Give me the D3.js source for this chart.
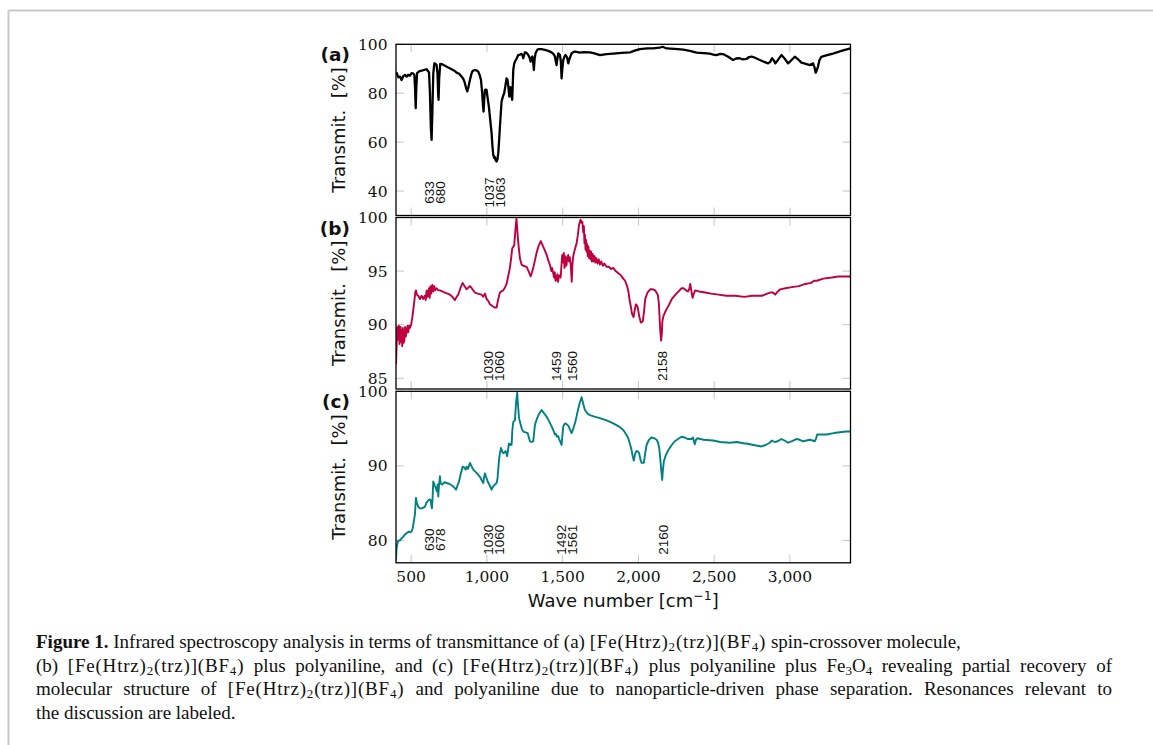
<!DOCTYPE html>
<html><head><meta charset="utf-8">
<script src="https://cdn.jsdelivr.net/npm/d3@7"></script>
<style>
body{margin:0;background:#fff;width:1153px;height:745px;overflow:hidden;position:relative;}
svg{position:absolute;left:0;top:0;}
.cap{position:absolute;left:36px;width:1076px;font-family:"Liberation Serif",serif;font-size:19px;line-height:20px;color:#111;white-space:nowrap;}
.just{text-align:justify;text-align-last:justify;}
.cap sub{font-size:13px;vertical-align:-3px;line-height:0;}
.f{letter-spacing:0.8px;}
</style></head>
<body>
<svg id="chart" width="1153" height="745"></svg>
<div class="cap" style="top:632px"><b>Figure 1.</b> Infrared spectroscopy analysis in terms of transmittance of (a) <span class="f">[Fe(Htrz)<sub>2</sub>(trz)](BF<sub>4</sub>)</span> spin-crossover molecule,</div>
<div class="cap just" style="top:655.5px">(b) <span class="f">[Fe(Htrz)<sub>2</sub>(trz)](BF<sub>4</sub>)</span> plus polyaniline, and (c) <span class="f">[Fe(Htrz)<sub>2</sub>(trz)](BF<sub>4</sub>)</span> plus polyaniline plus Fe<sub>3</sub>O<sub>4</sub> revealing partial recovery of</div>
<div class="cap just" style="top:679px">molecular structure of <span class="f">[Fe(Htrz)<sub>2</sub>(trz)](BF<sub>4</sub>)</span> and polyaniline due to nanoparticle-driven phase separation. Resonances relevant to</div>
<div class="cap" style="top:702.5px">the discussion are labeled.</div>
<script>
// ---------- data ----------
const waveA = [400,405,415,426,437,448,459,470,481,492,503,515,521,526,530,534,539,555,570,590,602,612,618,624,630,635,640,646,653,660,668,674,678,681,685,692,705,723,745,767,785,800,815,833,845,855,863,870,878,888,896,903,912,921,932,943,952,961,969,974,978,983,987,993,998,1005,1013,1022,1031,1037,1042,1048,1053,1058,1064,1070,1075,1080,1086,1092,1097,1105,1114,1122,1130,1136,1141,1148,1152,1155,1160,1167,1171,1174,1180,1185,1195,1207,1218,1229,1235,1240,1245,1251,1262,1273,1282,1289,1295,1300,1305,1310,1315,1321,1330,1339,1360,1383,1405,1427,1440,1449,1455,1460,1465,1471,1477,1482,1488,1493,1498,1504,1512,1520,1530,1537,1545,1559,1570,1581,1600,1614,1640,1680,1710,1746,1790,1834,1890,1944,1980,2010,2060,2098,2140,2160,2175,2186,2240,2296,2340,2384,2430,2471,2495,2515,2540,2559,2590,2625,2645,2669,2690,2713,2730,2747,2770,2801,2830,2856,2870,2882,2893,2904,2920,2944,2965,2988,3010,3032,3055,3076,3100,3131,3153,3163,3170,3178,3185,3195,3207,3240,3284,3340,3400];
const transA = [88.5,88.2,86.5,86.8,85.4,87,87.5,86.8,87.5,87.2,88.2,88,87.5,82,73.9,82,88.2,89,89.2,89.6,89.8,89,88.5,80,66,60.9,72,88,92.2,92,91.5,88,80,77.3,86,92,91.8,91.2,90.5,89.8,89.2,88.4,88,86.8,85.8,84.1,82,80.7,82.5,85.4,87.5,88.8,89.3,89.5,89.3,88.8,87.5,85.4,80,75,72.5,78,81.3,81.5,81.3,78,74.5,69,63.7,58,54.8,53.5,53.9,52.5,52.1,53,55.5,60,66.4,72,76.6,78.5,80,83,86.1,85.5,83,78.6,81,82.5,80,77.3,84,89.5,92,92.9,94,95.6,95.8,96.1,95.5,94.3,95.5,96.7,96.5,95.6,94.5,92.9,94.5,95,93,89.5,94,96.3,97.5,98,98,97.7,97.3,96.7,96,95,93,91.5,94,96.3,96,95.6,93,86.1,90,93.6,95,95.6,94.5,92.2,94,96.3,96.8,97,96.8,96.6,96.8,96.7,96.3,95.6,96,96.2,96.5,96.7,97.5,98,98.3,98.3,98.6,99,98.6,98.3,98.1,97.8,97.3,96.6,96.4,96.2,95.8,95.6,96.1,96,95,93.6,94.2,94.3,93.8,94,94.8,95,94.5,93.6,92.8,92.2,92.8,94.3,93.5,92.2,93.5,95.6,94.2,92.2,93.5,94.9,93.8,92.5,92.1,91.5,92.2,90.5,88.4,89.5,90.8,93.5,94.9,95.5,96.2,97.3,98.3];

const waveB = [400,404,408,411,415,419,423,426,430,434,437,441,445,450,455,460,465,471,476,481,487,492,500,508,515,521,527,532,538,547,558,569,580,590,596,602,608,613,618,622,628,633,640,646,652,660,668,680,690,705,723,740,756,772,789,800,811,825,840,852,866,880,888,895,905,921,940,965,975,987,998,1010,1020,1031,1050,1064,1075,1086,1095,1108,1120,1130,1140,1152,1160,1167,1175,1180,1188,1195,1200,1205,1211,1218,1229,1240,1262,1275,1289,1298,1306,1317,1328,1340,1356,1368,1383,1395,1405,1416,1425,1430,1438,1443,1448,1453,1460,1465,1470,1476,1482,1487,1492,1497,1500,1504,1508,1512,1518,1522,1526,1530,1537,1542,1547,1553,1560,1565,1570,1580,1592,1600,1608,1618,1625,1630,1636,1640,1644,1647,1651,1655,1658,1662,1666,1670,1675,1680,1684,1688,1693,1698,1703,1710,1716,1722,1730,1738,1746,1755,1765,1775,1790,1805,1820,1834,1850,1868,1885,1900,1912,1925,1934,1942,1950,1958,1968,1975,1983,1990,1996,2005,2016,2029,2037,2045,2060,2078,2095,2111,2128,2135,2139,2145,2150,2155,2158,2165,2177,2200,2221,2245,2265,2285,2298,2315,2327,2335,2342,2350,2358,2366,2375,2400,2441,2480,2529,2580,2639,2700,2749,2790,2815,2850,2870,2888,2903,2920,2936,2970,3013,3060,3101,3140,3160,3178,3220,3277,3320,3365,3400];
const transB = [86.3,88,89.8,89.7,88.6,89.9,88.2,88.8,89.8,88.4,89.5,88,89.7,88.3,88.5,89.8,88.9,89.4,89.9,89.3,89.9,89.7,90,90.7,91.5,92.2,93,93.2,92.8,92.7,92.4,92.7,92.4,92.7,92.3,93.2,92.6,92.9,93.4,92.5,93.6,92.9,93.7,93.1,93.6,93.2,93.4,93.2,93.2,93.1,93,92.9,92.8,92.6,92.3,92.6,92.8,93.4,93.9,93.6,93.3,93.5,93.6,93.5,93.3,93,92.9,92.8,92.6,92.9,92.4,92.2,91.9,91.8,91.6,91.6,92.4,93,93.1,93.2,93.5,93.8,94.5,95.3,96.2,97.1,97.3,97.4,98.8,99.9,99,98,97.1,96.2,95.6,95.5,95.4,95,94.5,94.9,95.3,96,96.7,97.3,97.8,97.4,96.9,96.5,96,95.6,95,95.3,94.8,94.4,94.9,94.1,94.2,94.7,94,94.6,94.6,94.4,95.5,96.5,95.8,96.2,96.7,95.3,96.4,95.5,95.6,96.2,96.5,95.9,96.3,95.7,94,95.7,96.4,97,97.6,98.3,99.3,99.8,99.5,99.6,98.6,99.2,97.6,98.4,97,97.9,96.8,97.5,96.4,97.3,96.2,96.9,96.1,96.8,95.9,96.6,95.9,96.4,95.8,96.2,95.7,96.1,95.6,95.9,95.5,95.7,95.4,95.4,95.2,95.3,95,94.8,94.6,94.3,94.1,93.6,93.1,92.3,91.7,91,90.7,91.3,91.9,91.8,91.6,90.8,90.2,90.3,91.2,92.4,93,93.3,93.3,93.2,92.8,92,90.9,89.3,88.5,89.2,90.3,90.8,91.2,91.8,92.4,92.8,93.1,93.4,93.4,93.2,93.1,93.3,93.8,93.1,92.5,92.9,93.2,93.1,93,92.9,92.8,92.7,92.7,92.6,92.7,92.7,92.7,92.9,93,93,92.8,93.1,93.3,93.4,93.5,93.6,93.8,93.9,94.1,94.1,94.3,94.4,94.5,94.5,94.5];

const waveC = [400,403,408,415,426,437,448,460,471,485,495,503,510,518,525,530,532,538,548,558,570,580,591,600,613,620,628,633,637,641,646,652,657,663,669,675,679,684,690,695,705,720,734,750,767,780,796,808,816,826,840,850,860,867,875,888,900,910,925,943,955,965,976,980,987,995,1005,1018,1031,1040,1053,1064,1070,1076,1081,1087,1093,1100,1108,1116,1123,1130,1134,1140,1145,1152,1159,1163,1168,1174,1185,1192,1200,1206,1212,1218,1230,1240,1255,1269,1277,1284,1295,1306,1312,1317,1330,1345,1361,1375,1394,1410,1427,1440,1449,1455,1462,1470,1477,1485,1493,1498,1504,1515,1526,1537,1548,1559,1572,1585,1600,1612,1625,1636,1647,1665,1680,1710,1746,1790,1834,1870,1900,1920,1933,1945,1955,1962,1970,1978,1988,1997,2005,2013,2021,2036,2045,2054,2070,2087,2105,2120,2130,2137,2142,2150,2157,2162,2168,2180,2197,2220,2240,2262,2284,2305,2328,2350,2361,2366,2372,2380,2390,2430,2493,2540,2603,2650,2700,2713,2760,2812,2840,2867,2880,2900,2920,2944,2965,2988,3010,3043,3065,3087,3110,3131,3150,3164,3172,3180,3200,3242,3290,3330,3370,3400];
const transC = [77.3,78.8,79.5,80,80,80.3,80.5,80.8,81,81.2,81.1,81.2,81.6,82.6,83.5,85.2,85.7,85,84.5,84.3,84.3,84.4,84.5,85,85.4,85.5,85.4,84.8,84.3,85.5,87.9,87.6,87.3,87,86.6,87.5,85.9,87.4,88.6,87.6,87.5,87.8,87.7,87.6,87.4,87.2,86.8,87.5,87.9,88.8,89.9,89.8,89.5,89.9,89.6,90.4,89.9,89.5,89.2,88.8,88.5,88.1,87.7,88.3,89,88.5,87.9,87.4,86.8,87.2,87.5,87.7,88.3,89.8,91,91.8,92.4,92,91.7,91.8,92,91.6,91.3,92.2,93,92.8,93,92.8,94.8,95.9,96.1,98.4,99.8,98,96.4,95.9,95,94.6,94.5,94.4,93.8,93.3,93.2,93.3,94.5,95.5,96.3,97,97.5,97.1,96.6,96,95.3,94.7,94.2,94.3,93.9,94,93.6,93.2,92.8,94,95.3,95.7,95.6,95.4,94.9,94.4,95.1,96,97.4,98.4,99.2,98.3,97.5,97,96.8,96.6,96.4,96.1,95.7,95.3,94.8,94.2,93.7,92.9,92.1,91.3,90.7,91.6,92,91.9,91.7,90.9,90.4,90.4,91.7,92.8,93.5,93.8,93.7,93.5,93.1,92.4,91.5,89.6,88.1,89.5,90.6,91.4,92.1,92.8,93.3,93.6,93.9,93.8,93.6,93.6,93.8,93.3,92.9,93.5,93.7,93.5,93.4,93.2,93.1,93.2,93,93,92.8,92.6,92.8,93.1,93.4,93.2,93.3,93.6,93.4,93.1,93.3,93.6,93.5,93.3,93.4,93.5,93.4,93.3,93.6,94.2,94.2,94.2,94.4,94.5,94.6,94.6];

const peaksA = [633, 680, 1037, 1063];
const peaksB = [1030, 1060, 1459, 1560, 2158];
const peaksC = [630, 678, 1030, 1060, 1492, 1561, 2160];

const xTicks = [500, 1000, 1500, 2000, 2500, 3000];
const yTicksA = [40, 60, 80, 100];
const yTicksB = [85, 90, 95, 100];
const yTicksC = [80, 90, 100];

const panelLetters = ["(a)", "(b)", "(c)"];
const yLabel = "Transmit.  [%]";

// ---------- drawing ----------
const svg = d3.select("#chart");
// outer light frame
svg.append("line").attr("x1",8.5).attr("x2",1153).attr("y1",10.5).attr("y2",10.5).attr("stroke","#c8c8c8").attr("stroke-width",2);
svg.append("line").attr("x1",8.5).attr("x2",8.5).attr("y1",10.5).attr("y2",745).attr("stroke","#c8c8c8").attr("stroke-width",2);

const left = 396, right = 850.5;
const x = d3.scaleLinear().domain([400, 3400]).range([left, right]);

const panels = [
  {top:44.3, bottom:215.5, dom:[30,100], ticks:yTicksA, wave:waveA, trans:transA, peaks:peaksA, color:"#000000", width:2.3, lab:panelLetters[0]},
  {top:217.5, bottom:389, dom:[84,100], ticks:yTicksB, wave:waveB, trans:transB, peaks:peaksB, color:"#bf0040", width:1.9, lab:panelLetters[1]},
  {top:391.3, bottom:562.8, dom:[77,100], ticks:yTicksC, wave:waveC, trans:transC, peaks:peaksC, color:"#008080", width:1.9, lab:panelLetters[2]}
];

const tickLen = 8;
panels.forEach((p, i) => {
  const y = d3.scaleLinear().domain(p.dom).range([p.bottom, p.top]);
  const g = svg.append("g");
  const clipId = "clip" + i;
  svg.append("clipPath").attr("id", clipId).append("rect")
    .attr("x", left).attr("y", p.top - 1).attr("width", right - left).attr("height", p.bottom - p.top + 1);

  // gray inner ticks on all sides
  const tg = g.append("g").attr("stroke", "#c4c4c4").attr("stroke-width", 1);
  xTicks.forEach(t => {
    tg.append("line").attr("x1", x(t)).attr("x2", x(t)).attr("y1", p.bottom).attr("y2", p.bottom - tickLen);
    tg.append("line").attr("x1", x(t)).attr("x2", x(t)).attr("y1", p.top).attr("y2", p.top + tickLen);
  });
  p.ticks.forEach(t => {
    tg.append("line").attr("x1", left).attr("x2", left + tickLen).attr("y1", y(t)).attr("y2", y(t));
    tg.append("line").attr("x1", right).attr("x2", right - tickLen).attr("y1", y(t)).attr("y2", y(t));
  });

  // y tick labels
  p.ticks.forEach(t => {
    g.append("text").attr("x", left - 8.5).attr("y", y(t)).attr("dy", "0.36em")
      .attr("text-anchor", "end").attr("font-family", "DejaVu Serif").attr("font-size", 15.5)
      .attr("fill", "#111").text(t);
  });

  // spectrum
  const pts = p.wave.map((w, k) => [w, p.trans[k]]);
  const line = d3.line().x(d => x(d[0])).y(d => y(d[1]));
  g.append("path").datum(pts).attr("d", line).attr("fill", "none")
    .attr("stroke", p.color).attr("stroke-width", p.width).attr("stroke-linejoin", "round")
    .attr("clip-path", `url(#${clipId})`);

  // frame
  g.append("rect").attr("x", left).attr("y", p.top).attr("width", right - left).attr("height", p.bottom - p.top)
    .attr("fill", "none").attr("stroke", "#000").attr("stroke-width", 1.3);

  // peak labels (spread apart when too close)
  const sep = 10.7;
  const pos = p.peaks.map(v => x(v));
  const groups = [];
  pos.forEach((px, k) => {
    const last = groups[groups.length - 1];
    if (last && px - pos[last[last.length - 1]] < sep) last.push(k); else groups.push([k]);
  });
  const lx = [];
  groups.forEach(gr => {
    const mean = d3.mean(gr, k => pos[k]);
    gr.forEach((k, j) => { lx[k] = mean + (j - (gr.length - 1) / 2) * sep; });
  });
  p.peaks.forEach((v, k) => {
    g.append("text").attr("transform", `translate(${lx[k]},${p.bottom - 23}) rotate(-90)`)
      .attr("text-anchor", "middle").attr("dy", "0.36em")
      .attr("font-family", "Liberation Sans").attr("font-size", 13.5).attr("fill", "#111").text(v);
  });

  // y axis label
  g.append("text").attr("transform", `translate(${345},${(p.top + p.bottom) / 2}) rotate(-90)`)
    .attr("text-anchor", "middle").attr("font-family", "DejaVu Sans").attr("font-size", 18)
    .attr("fill", "#111").attr("xml:space", "preserve").style("white-space", "pre").text(yLabel);

  // panel letter
  g.append("text").attr("x", 350).attr("y", p.top + 17).attr("text-anchor", "end")
    .attr("font-family", "DejaVu Sans").attr("font-weight", "bold").attr("font-size", 18.5)
    .attr("fill", "#111").text(p.lab);

  // x tick labels on bottom panel
  if (i === panels.length - 1) {
    const fmt = d3.format(",");
    xTicks.forEach(t => {
      g.append("text").attr("x", x(t)).attr("y", p.bottom + 19.5).attr("text-anchor", "middle")
        .attr("font-family", "DejaVu Serif").attr("font-size", 15.5).attr("fill", "#111").text(fmt(t));
    });
    const xl = g.append("text").attr("x", (left + right) / 2).attr("y", p.bottom + 44)
      .attr("text-anchor", "middle").attr("font-family", "DejaVu Sans").attr("font-size", 18).attr("fill", "#111");
    xl.append("tspan").text("Wave number [cm");
    xl.append("tspan").attr("dy", -7).attr("font-size", 12.5).text("\u22121");
    xl.append("tspan").attr("dy", 7).text("]");
  }
});
</script>
</body></html>
